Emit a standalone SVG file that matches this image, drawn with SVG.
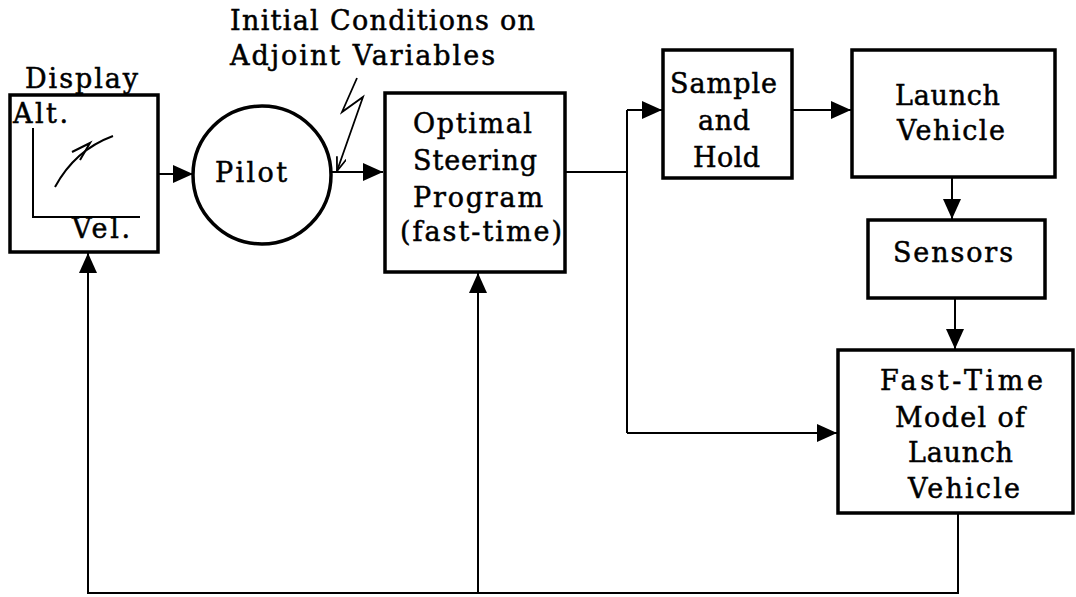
<svg xmlns="http://www.w3.org/2000/svg" width="1076" height="597" viewBox="0 0 1076 597">
<style>
text{font-family:"DejaVu Serif","Liberation Serif",serif;font-size:27px;fill:#000;stroke:#000;stroke-width:0.5}
.box{fill:#fff;stroke:#000;stroke-width:3.5}
.ln{fill:none;stroke:#000;stroke-width:2}
.thin{fill:none;stroke:#000;stroke-width:1.8}
</style>
<defs>
<marker id="ah" markerUnits="userSpaceOnUse" markerWidth="22" markerHeight="20" refX="20" refY="9" orient="auto">
<path d="M0,0 L20,9 L0,18 z" fill="#000"/>
</marker>
<marker id="ahs" markerUnits="userSpaceOnUse" markerWidth="16" markerHeight="12" refX="14" refY="5" orient="auto">
<path d="M0,0 L14,5 L0,10" fill="none" stroke="#000" stroke-width="1.8"/>
</marker>
</defs>
<g id="connectors">
<path class="ln" d="M158,174 L193,174" marker-end="url(#ah)"/>
<path class="ln" d="M331,172 L383,172" marker-end="url(#ah)"/>
<path class="ln" d="M565,172 L627,172"/>
<path class="ln" d="M627,110 L627,433"/>
<path class="ln" d="M627,110 L662,110" marker-end="url(#ah)"/>
<path class="ln" d="M627,433 L837,433" marker-end="url(#ah)"/>
<path class="ln" d="M792,110 L851,110" marker-end="url(#ah)"/>
<path class="ln" d="M952,177 L952,219" marker-end="url(#ah)"/>
<path class="ln" d="M955,298 L955,349" marker-end="url(#ah)"/>
<path class="ln" d="M958,513 L958,593 L88,593 L88,253" marker-end="url(#ah)"/>
<path class="ln" d="M478,593 L478,273" marker-end="url(#ah)"/>
<path class="thin" d="M357,78 L342,112 L363,97 L337,171" marker-end="url(#ahs)"/>
</g>
<g id="label-initial">
<text x="230" y="30" textLength="305" lengthAdjust="spacing">Initial Conditions on</text>
<text x="230" y="65" textLength="265" lengthAdjust="spacing">Adjoint Variables</text>
</g>
<g id="display">
<rect class="box" x="10" y="95" width="148" height="157"/>
<text x="25" y="88" textLength="113" lengthAdjust="spacing">Display</text>
<text x="13" y="123" textLength="55" lengthAdjust="spacing">Alt.</text>
<path class="ln" d="M33,128 L33,217 L140,217"/>
<path class="ln" d="M55,187 Q75,150 113,136"/>
<path class="ln" d="M72,152 L90,143 L80,160"/>
<text x="72" y="238" textLength="58" lengthAdjust="spacing">Vel.</text>
</g>
<g id="pilot">
<circle class="box" cx="262" cy="175" r="69"/>
<text x="215" y="182" textLength="72" lengthAdjust="spacing">Pilot</text>
</g>
<g id="optimal">
<rect class="box" x="385" y="93" width="180" height="179"/>
<text x="413" y="133" textLength="119" lengthAdjust="spacing">Optimal</text>
<text x="413" y="170" textLength="124" lengthAdjust="spacing">Steering</text>
<text x="413" y="207" textLength="130" lengthAdjust="spacing">Program</text>
<text x="400" y="241" textLength="162" lengthAdjust="spacing">(fast-time)</text>
</g>
<g id="sample">
<rect class="box" x="663" y="50" width="129" height="128"/>
<text x="670" y="93" textLength="107" lengthAdjust="spacing">Sample</text>
<text x="698" y="130" textLength="52" lengthAdjust="spacing">and</text>
<text x="693" y="167" textLength="67" lengthAdjust="spacing">Hold</text>
</g>
<g id="launch">
<rect class="box" x="852" y="50" width="203" height="127"/>
<text x="895" y="105" textLength="105" lengthAdjust="spacing">Launch</text>
<text x="897" y="140" textLength="108" lengthAdjust="spacing">Vehicle</text>
</g>
<g id="sensors">
<rect class="box" x="868" y="220" width="177" height="78"/>
<text x="893" y="262" textLength="120" lengthAdjust="spacing">Sensors</text>
</g>
<g id="fastmodel">
<rect class="box" x="838" y="350" width="235" height="163"/>
<text x="880" y="390" textLength="163" lengthAdjust="spacing">Fast-Time</text>
<text x="895" y="427" textLength="130" lengthAdjust="spacing">Model of</text>
<text x="908" y="462" textLength="105" lengthAdjust="spacing">Launch</text>
<text x="908" y="498" textLength="112" lengthAdjust="spacing">Vehicle</text>
</g>
</svg>
